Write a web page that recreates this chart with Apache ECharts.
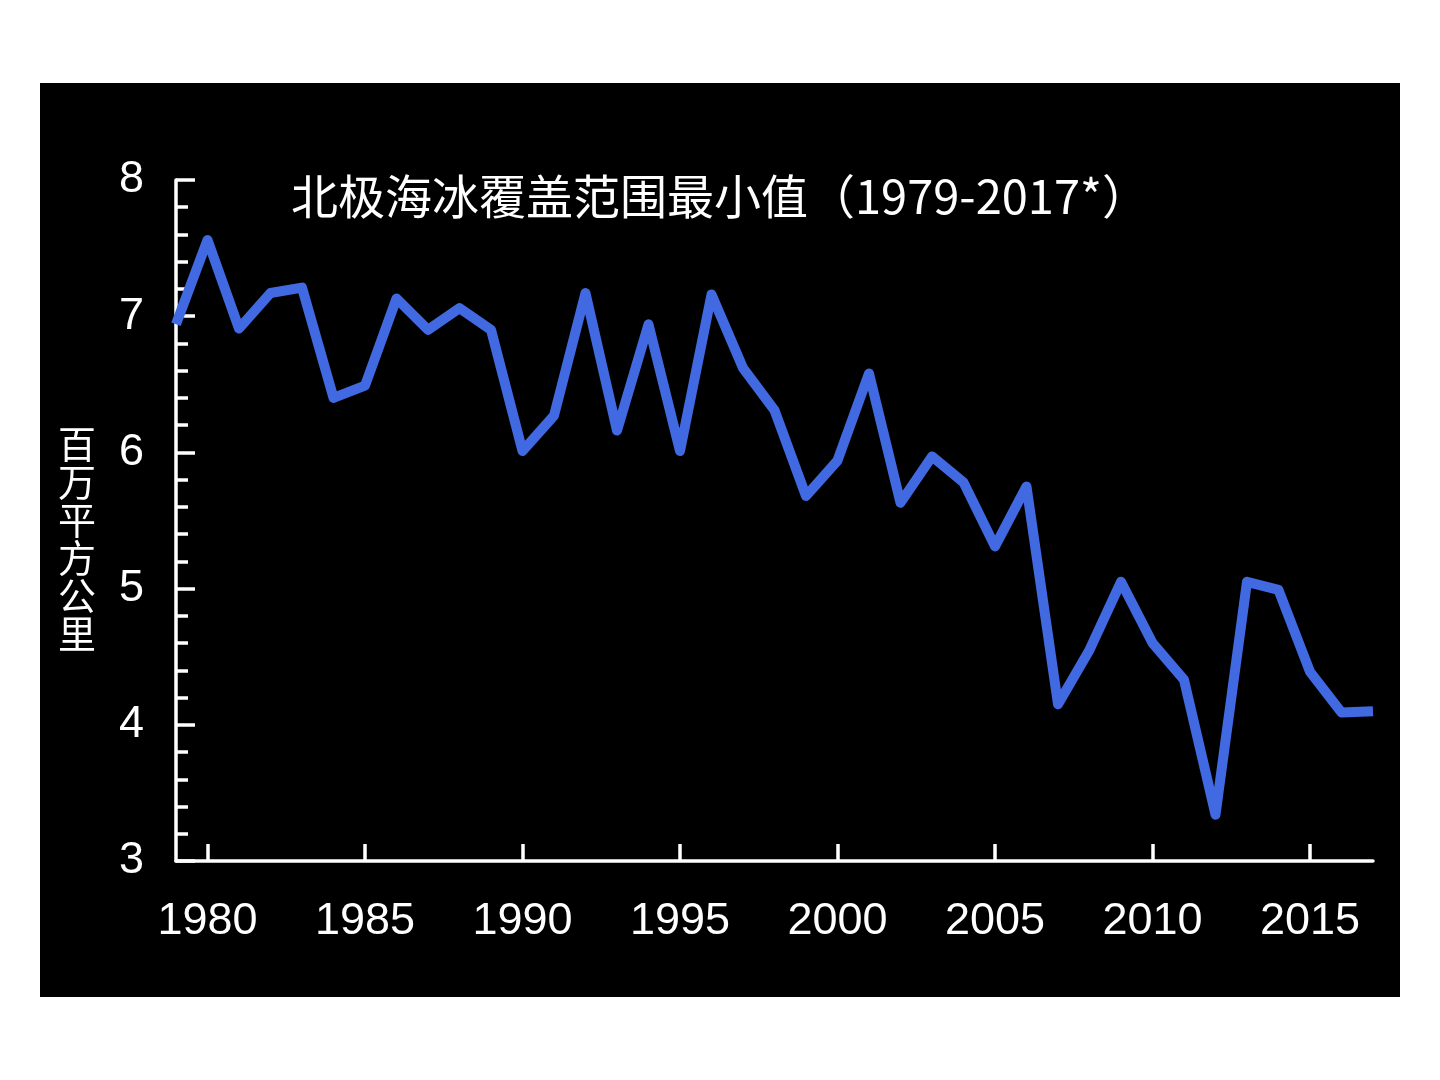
<!DOCTYPE html>
<html>
<head>
<meta charset="utf-8">
<script src="https://cdn.jsdelivr.net/npm/echarts@6/dist/echarts.min.js"></script>
<style>
  html, body { margin: 0; padding: 0; background: #fff; }
  #chart { position: absolute; left: 40px; top: 83px; width: 1360px; height: 914px; background: #000; }
</style>
</head>
<body>
<div id="chart"></div>
<script>
// 北极海冰 9月最小覆盖范围 (百万平方公里)
const years = [1979, 1980, 1981, 1982, 1983, 1984, 1985, 1986, 1987, 1988,
  1989, 1990, 1991, 1992, 1993, 1994, 1995, 1996, 1997, 1998,
  1999, 2000, 2001, 2002, 2003, 2004, 2005, 2006, 2007, 2008,
  2009, 2010, 2011, 2012, 2013, 2014, 2015, 2016, 2017]
const extent = [6.94, 7.56, 6.91, 7.17, 7.21, 6.40, 6.49, 7.13, 6.90, 7.06,
  6.90, 6.01, 6.27, 7.17, 6.16, 6.94, 6.01, 7.16, 6.62, 6.31,
  5.68, 5.94, 6.58, 5.63, 5.97, 5.78, 5.31, 5.75, 4.15, 4.55,
  5.05, 4.60, 4.33, 3.34, 5.05, 4.99, 4.39, 4.09, 4.10]
const yearTicks = [1980, 1985, 1990, 1995, 2000, 2005, 2010, 2015]

const titleText = '北极海冰覆盖范围最小值（1979-2017*）'
const yName = '百\n万\n平\n方\n公\n里'

const chart = echarts.init(document.getElementById('chart'))

const option = {
  backgroundColor: '#000',
  animation: false,
  title: {
    text: titleText,
    left: 246,
    top: 85,
    textStyle: {
      color: '#fff',
      fontFamily: 'Noto Sans CJK SC',
      fontWeight: 'normal',
      fontSize: 47
    }
  },
  graphic: [{
    type: 'text',
    left: 18,
    top: 342,
    style: {
      text: yName,
      fill: '#fff',
      font: '38px "Noto Sans CJK SC"',
      lineHeight: 38
    }
  }],
  grid: { left: 136, top: 97, right: 27, bottom: 136 },
  xAxis: {
    type: 'value',
    min: 1979,
    max: 2017,
    splitLine: { show: false },
    axisLine: { lineStyle: { color: '#fff', width: 3.5 } },
    axisTick: {
      inside: true,
      length: 17,
      customValues: yearTicks,
      lineStyle: { color: '#fff', width: 3.5 }
    },
    axisLabel: {
      customValues: yearTicks,
      formatter: v => String(v),
      margin: 38,
      color: '#fff',
      fontSize: 45,
      fontFamily: 'Liberation Sans'
    }
  },
  yAxis: {
    type: 'value',
    min: 3,
    max: 8,
    interval: 1,
    splitLine: { show: false },
    axisLine: { show: true, lineStyle: { color: '#fff', width: 3.5 } },
    axisTick: {
      show: true,
      inside: true,
      length: 19,
      lineStyle: { color: '#fff', width: 3.5 }
    },
    minorTick: {
      show: true,
      splitNumber: 5,
      length: 12,
      lineStyle: { color: '#fff', width: 3.5 }
    },
    axisLabel: {
      margin: 32,
      color: '#fff',
      fontSize: 45,
      fontFamily: 'Liberation Sans'
    }
  },
  series: [{
    type: 'line',
    data: years.map((y, i) => [y, extent[i]]),
    showSymbol: false,
    lineStyle: { color: '#4169E1', width: 10, join: 'round' },
    itemStyle: { color: '#4169E1' }
  }]
}

chart.setOption(option)
</script>
</body>
</html>
